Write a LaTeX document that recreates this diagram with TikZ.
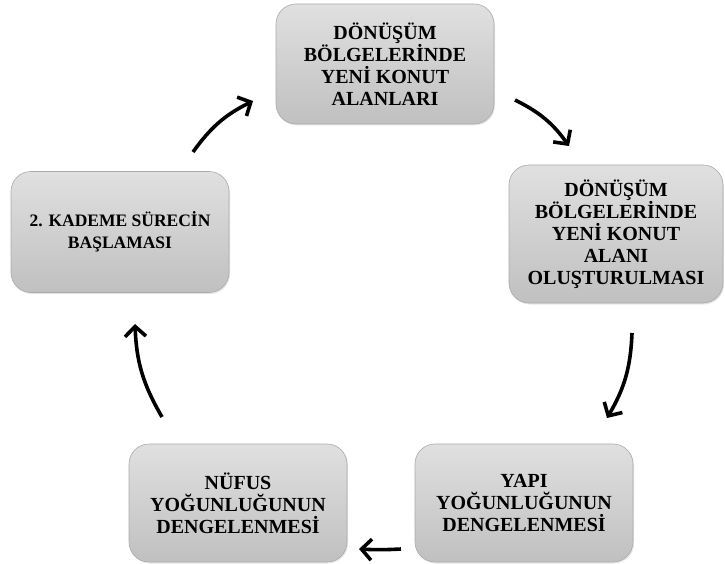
\documentclass[tikz,border=0pt]{standalone}
\usepackage{fontspec}
\setmainfont{Liberation Serif}
\usetikzlibrary{arrows.meta,shadows}
\definecolor{boxtop}{RGB}{224,224,224}
\definecolor{boxbot}{RGB}{192,192,192}
\definecolor{boxline}{RGB}{170,170,170}

\begin{document}
\begin{tikzpicture}
[x=1pt,y=1pt,
 kbox/.style={rectangle,rounded corners=20pt,draw=boxline,line width=0.6pt,
   top color=boxtop,bottom color=boxbot,align=center,
   font=\bfseries\fontsize{20}{22}\selectfont,
   minimum width=218pt,minimum height=118pt,inner sep=0pt,
   drop shadow={shadow xshift=1pt,shadow yshift=-1.5pt,opacity=0.2}},
 cyc/.style={line width=3.6pt,-{Straight Barb[length=10pt,width=21pt]}}]

  \useasboundingbox (0,-564) rectangle (725,0);

  \node (n1) at (385,-64) [kbox,minimum height=120pt] {DÖNÜŞÜM\\BÖLGELERİNDE\\YENİ KONUT\\ALANLARI};
  \node (n2) at (616,-234) [kbox,minimum width=214pt,minimum height=138pt] {DÖNÜŞÜM\\BÖLGELERİNDE\\YENİ KONUT\\ALANI\\OLUŞTURULMASI};
  \node (n3) at (524,-503) [kbox] {YAPI\\YOĞUNLUĞUNUN\\DENGELENMESİ};
  \node (n4) at (238,-503) [kbox] {NÜFUS\\YOĞUNLUĞUNUN\\DENGELENMESİ};
  \node (n5) at (120,-232) [kbox,minimum height=121pt,font=\bfseries\fontsize{17.5}{22}\selectfont] {2. KADEME SÜRECİN\\BAŞLAMASI};

  % arrow ends
  \coordinate (s1) at (515,-100);  \coordinate (e1) at (569,-146);
  \coordinate (s2) at (632,-333);  \coordinate (e2) at (607,-418);
  \coordinate (s3) at (401,-549);  \coordinate (e3) at (359,-549);
  \coordinate (s4) at (162,-417);  \coordinate (e4) at (135,-324);
  \coordinate (s5) at (193,-152);  \coordinate (e5) at (253,-101);

  \foreach \from/\to/\b in {s1/e1/14,s2/e2/14,s3/e3/3,s4/e4/14,s5/e5/14}
    \draw[cyc] (\from) to[bend left=\b] (\to);

\end{tikzpicture}
\end{document}
